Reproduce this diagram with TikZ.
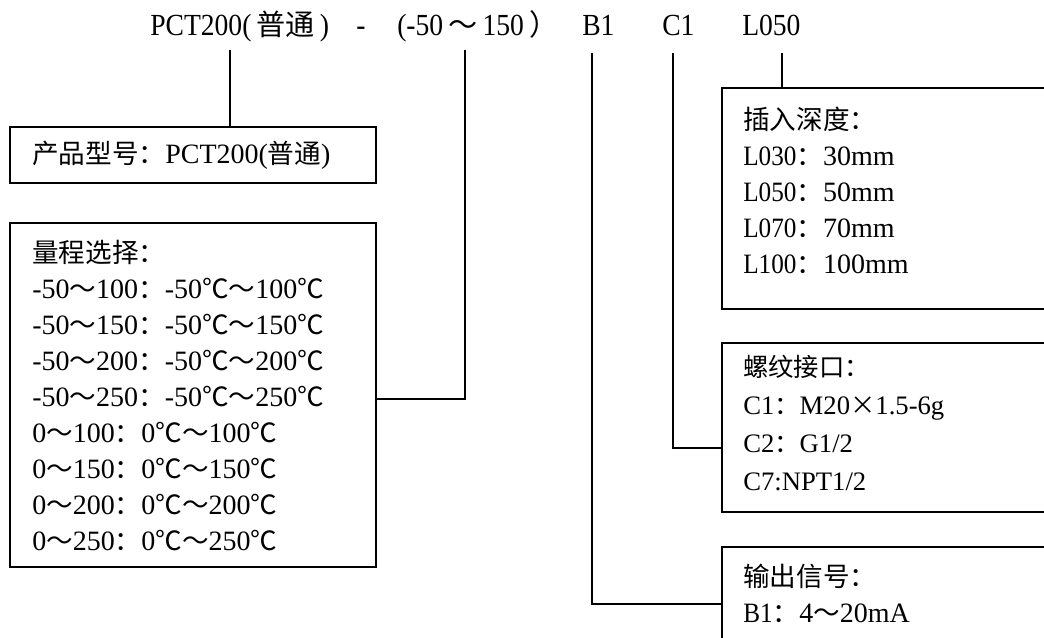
\documentclass[tikz,border=0pt]{standalone}
\usepackage{fontspec}
\setmainfont{Liberation Serif}
\newfontfamily\cjk[Scale=0.95]{Noto Sans CJK SC}
\newfontfamily\sn[FakeStretch=0.9]{Liberation Serif}
\newcommand\C[1]{{\cjk #1}}
\newcommand\Sn[1]{{\sn #1}}

\tikzset{
  codebox/.style={draw, line width=1.4pt, anchor=north west, inner sep=0pt},
  boxtext/.style={anchor=north west, align=left, inner sep=0pt,
    font=\fontsize{21}{27}\selectfont},
  code/.style={anchor=base west, inner sep=0pt, font=\fontsize{23}{27}\selectfont\sn},
  conn/.style={line width=1.4pt}
}

\begin{document}
\begin{tikzpicture}[x=0.75pt, y=-0.75pt]

\newcommand\PX{0.75pt}

\clip (0,0) rectangle (1044,637);

%% model code
\node[code] (pct) at (150,35.5) {PCT200(\,\C{普通}\,)};
\node[code] (dash) at (356,35.5) {-};
\node[code] (rng) at (397,35.5) {(-50\,\C{～}\,150\,\C{）}};
\node[code] (sig) at (582,35.5) {B1};
\node[code] (thr) at (662,35.5) {C1};
\node[code] (len) at (742,35.5) {L050};

\coordinate (pctfoot) at (230,50);
\coordinate (rngfoot) at (465,50);
\coordinate (sigfoot) at (592,53);
\coordinate (thrfoot) at (673,53);
\coordinate (lenfoot) at (782,53);

%% boxes
\node[codebox, minimum width=366*\PX, minimum height=56*\PX] (boxA) at (9,126) {};
\node[codebox, minimum width=366*\PX, minimum height=344*\PX] (boxB) at (9,222) {};
\node[codebox, minimum width=360*\PX, minimum height=221*\PX] (boxC) at (721,87) {};
\node[codebox, minimum width=360*\PX, minimum height=169*\PX] (boxD) at (721,342) {};
\node[codebox, minimum width=360*\PX, minimum height=116*\PX] (boxE) at (721,546) {};

%% box texts
\node[boxtext, anchor=west] (txtA) at ([xshift=23*\PX]boxA.west)
  {\C{产品型号：}PCT200(\C{普通})};

\node[boxtext] (txtB) at ([xshift=23*\PX, yshift=-18*\PX]boxB.north west)
  {\C{量程选择：}\\
   -50\C{～}100\C{：}-50\C{℃～}100\C{℃}\\
   -50\C{～}150\C{：}-50\C{℃～}150\C{℃}\\
   -50\C{～}200\C{：}-50\C{℃～}200\C{℃}\\
   -50\C{～}250\C{：}-50\C{℃～}250\C{℃}\\
   0\C{～}100\C{：}0\C{℃～}100\C{℃}\\
   0\C{～}150\C{：}0\C{℃～}150\C{℃}\\
   0\C{～}200\C{：}0\C{℃～}200\C{℃}\\
   0\C{～}250\C{：}0\C{℃～}250\C{℃}};

\node[boxtext] (txtC) at ([xshift=22*\PX, yshift=-20*\PX]boxC.north west)
  {\C{插入深度：}\\
   \Sn{L030}\C{：}30mm\\
   \Sn{L050}\C{：}50mm\\
   \Sn{L070}\C{：}70mm\\
   \Sn{L100}\C{：}100mm};

\node[boxtext, font=\fontsize{20}{28.5}\selectfont] (txtD)
  at ([xshift=22*\PX, yshift=-13*\PX]boxD.north west)
  {\C{螺纹接口：}\\
   C1\C{：}M20\C{×}1.5-6g\\
   C2\C{：}G1/2\\
   C7:NPT1/2};

\node[boxtext] (txtE) at ([xshift=22*\PX, yshift=-18*\PX]boxE.north west)
  {\C{输出信号：}\\
   \Sn{B1}\C{：}4\C{～}20mA};

%% connectors
\draw[conn] (pctfoot) -- (pctfoot |- boxA.north);
\draw[conn] (rngfoot) |- (boxB.east |- 0,399);
\draw[conn] (sigfoot) |- (boxE.west |- 0,604);
\draw[conn] (thrfoot) |- (boxD.west |- 0,448);
\draw[conn] (lenfoot) -- (lenfoot |- boxC.north);

\end{tikzpicture}
\end{document}
